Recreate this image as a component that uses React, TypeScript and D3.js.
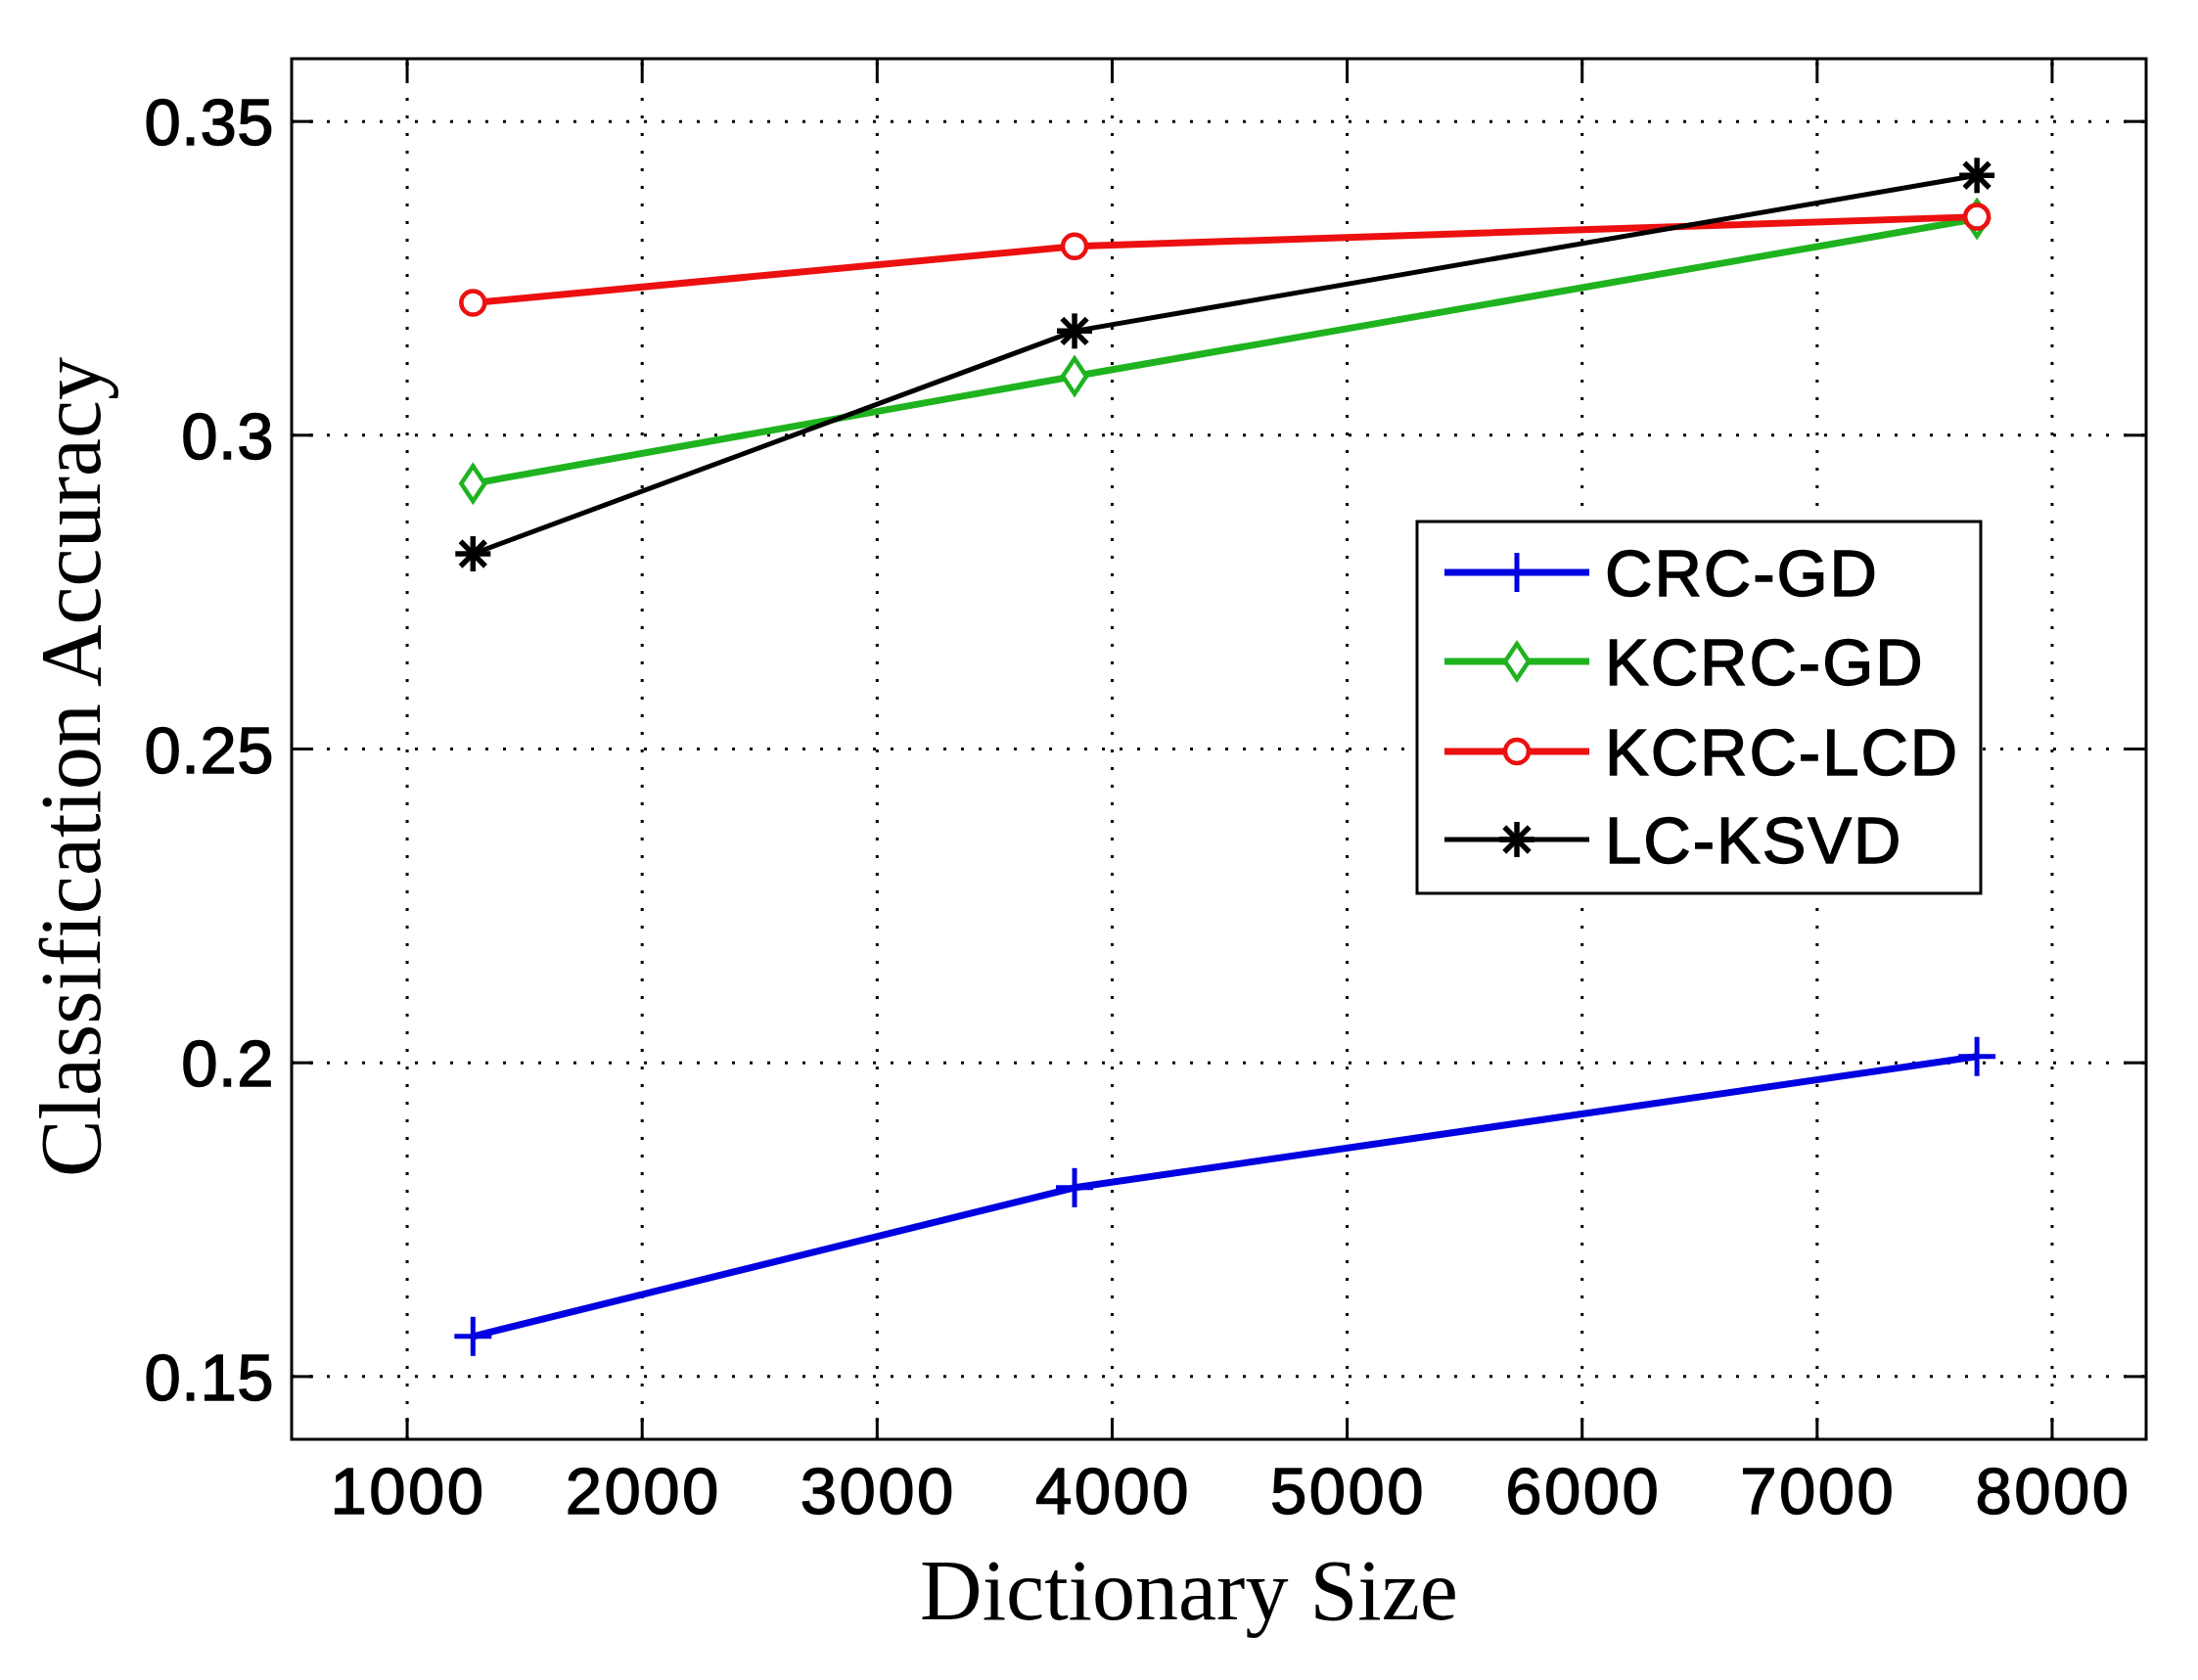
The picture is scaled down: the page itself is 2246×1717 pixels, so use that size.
import React from "react";
import * as d3 from "d3";

const dictSizes = [1280, 3840, 7680];
const crcGD = [0.1564, 0.1801, 0.201];
const kcrcGD = [0.2923, 0.3094, 0.3345];
const kcrcLCD = [0.3211, 0.3301, 0.3348];
const lcKSVD = [0.2811, 0.3166, 0.3414];
const xTicks = [1000, 2000, 3000, 4000, 5000, 6000, 7000, 8000];
const yTicks = [0.15, 0.2, 0.25, 0.3, 0.35];
const yTickLabels = ["0.15", "0.2", "0.25", "0.3", "0.35"];
const seriesNames = ["CRC-GD", "KCRC-GD", "KCRC-LCD", "LC-KSVD"];
const seriesColors = ["#0000e0", "#1fb31f", "#ec1010", "#000000"];
const seriesMarkers = ["plus", "diamond", "circle", "star"];
const seriesValues = [crcGD, kcrcGD, kcrcLCD, lcKSVD];

const W = 2246;
const H = 1717;
const L = 298, R = 2193, T = 60, B = 1471;

function Marker({ type, cx, cy, color }: { type: string; cx: number; cy: number; color: string }) {
  if (type === "plus") {
    return (
      <g stroke={color} strokeWidth={5}>
        <line x1={cx - 19} y1={cy} x2={cx + 19} y2={cy} />
        <line x1={cx} y1={cy - 20} x2={cx} y2={cy + 20} />
      </g>
    );
  }
  if (type === "diamond") {
    const w = 12, h = 18;
    return (
      <path
        d={`M${cx},${cy - h}L${cx + w},${cy}L${cx},${cy + h}L${cx - w},${cy}Z`}
        fill="white"
        stroke={color}
        strokeWidth={4.5}
      />
    );
  }
  if (type === "circle") {
    return <circle cx={cx} cy={cy} r={12} fill="white" stroke={color} strokeWidth={4.5} />;
  }
  const r = 18;
  const arms = [0, 45, 90, 135].map((a) => {
    const rad = (a * Math.PI) / 180;
    return (
      <line
        key={a}
        x1={cx - r * Math.cos(rad)}
        y1={cy - r * Math.sin(rad)}
        x2={cx + r * Math.cos(rad)}
        y2={cy + r * Math.sin(rad)}
      />
    );
  });
  return (
    <g stroke={color} strokeWidth={5.5}>
      {arms}
    </g>
  );
}

export default function App() {
  const x = d3.scaleLinear().domain([500, 8400]).range([L - 2, R]);
  const y = d3.scaleLinear().domain([0.14, 0.36]).range([B, T]);
  const line = d3
    .line<[number, number]>()
    .x((d) => x(d[0]))
    .y((d) => y(d[1]));

  const tickLen = 22;
  const sans = "Liberation Sans, Arial, Helvetica, sans-serif";
  const serif = "Liberation Serif, Times New Roman, serif";

  const legL = 1448, legR = 2024, legT = 533, legB = 913;
  const legRows = [585, 676, 768, 858];

  return (
    <div style={{ position: "absolute", left: 0, top: 0 }}>
      <svg width={W} height={H} viewBox={`0 0 ${W} ${H}`} style={{ display: "block", background: "white" }}>
        <rect x={0} y={0} width={W} height={H} fill="white" />
        <g stroke="#000" strokeWidth={3} strokeDasharray="3 15">
          {xTicks.map((t) => (
            <line key={"gx" + t} x1={x(t)} x2={x(t)} y1={B} y2={T} />
          ))}
          {yTicks.map((t) => (
            <line key={"gy" + t} x1={L} x2={R} y1={y(t)} y2={y(t)} />
          ))}
        </g>
        {seriesValues.map((vals, i) => (
          <path
            key={"s" + i}
            d={line(dictSizes.map((d, j) => [d, vals[j]] as [number, number])) || ""}
            fill="none"
            stroke={seriesColors[i]}
            strokeWidth={i === 3 ? 5 : 7}
            strokeLinejoin="round"
          />
        ))}
        {seriesValues.map((vals, i) =>
          dictSizes.map((d, j) => (
            <Marker
              key={"m" + i + "-" + j}
              type={seriesMarkers[i]}
              cx={x(d)}
              cy={y(vals[j])}
              color={seriesColors[i]}
            />
          ))
        )}
        <rect x={L} y={T} width={R - L} height={B - T} fill="none" stroke="#000" strokeWidth={3} />
        <g stroke="#000" strokeWidth={3}>
          {xTicks.map((t) => (
            <g key={"tx" + t}>
              <line x1={x(t)} x2={x(t)} y1={B} y2={B - tickLen} />
              <line x1={x(t)} x2={x(t)} y1={T} y2={T + tickLen} />
            </g>
          ))}
          {yTicks.map((t) => (
            <g key={"ty" + t}>
              <line x1={L} x2={L + tickLen} y1={y(t)} y2={y(t)} />
              <line x1={R} x2={R - tickLen} y1={y(t)} y2={y(t)} />
            </g>
          ))}
        </g>
        <g fontFamily={sans} fontSize={67} fill="#000" stroke="#000" strokeWidth={1.4}>
          {xTicks.map((t) => (
            <text key={"lx" + t} x={x(t) + 1} y={1547} textAnchor="middle" letterSpacing={2.5}>
              {String(t)}
            </text>
          ))}
          {yTicks.map((t, i) => (
            <text key={"ly" + t} x={280} y={y(t) + 24} textAnchor="end" letterSpacing={0.5}>
              {yTickLabels[i]}
            </text>
          ))}
        </g>
        <text x={1215} y={1655} textAnchor="middle" fontFamily={serif} fontSize={88} fill="#000">
          Dictionary Size
        </text>
        <text
          transform={`translate(102, 784) rotate(-90)`}
          textAnchor="middle"
          fontFamily={serif}
          fontSize={88}
          fill="#000"
        >
          Classification Accuracy
        </text>
        <rect x={legL} y={legT} width={legR - legL} height={legB - legT} fill="white" stroke="#000" strokeWidth={3} />
        {seriesNames.map((name, i) => (
          <g key={"leg" + i}>
            <line
              x1={1476}
              x2={1624}
              y1={legRows[i]}
              y2={legRows[i]}
              stroke={seriesColors[i]}
              strokeWidth={i === 3 ? 5 : 7}
            />
            <Marker type={seriesMarkers[i]} cx={1550} cy={legRows[i]} color={seriesColors[i]} />
            <text
              x={1640}
              y={legRows[i] + 24}
              fontFamily={sans}
              fontSize={67}
              fill="#000"
              stroke="#000"
              strokeWidth={1.4}
              letterSpacing={2}
            >
              {name}
            </text>
          </g>
        ))}
      </svg>
    </div>
  );
}
